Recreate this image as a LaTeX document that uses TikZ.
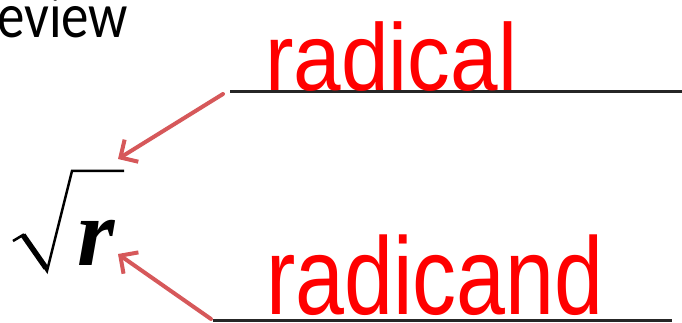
\documentclass[tikz,border=0pt]{standalone}
\usepackage{fontspec}
\setmainfont{Liberation Serif}
\newfontfamily\hand{Liberation Sans}
\newfontfamily\titlefont{Carlito}
\usetikzlibrary{arrows.meta}
\definecolor{arrowred}{RGB}{214,88,90}
\tikzset{
  blankline/.style={line width=3pt, black!85},
  pointer/.style={line width=4pt, arrowred, line cap=round,
    -{Straight Barb[length=13pt,width=26pt,line width=4pt]}},
  handword/.style={red, inner sep=0pt, anchor=base west, text depth=0pt},
}
\begin{document}
\begin{tikzpicture}[x=1pt,y=-1pt]
\useasboundingbox (0,0) rectangle (682,323);
% title fragment
\node[inner sep=0pt, anchor=base west, xscale=0.86, text height=30pt, text depth=0pt] (title) at (-3,38) {\titlefont\fontsize{64}{66}\selectfont eview};
% blank lines
\coordinate (l1a) at (230,92);
\coordinate (l1b) at (682,92);
\coordinate (l2a) at (213,320);
\coordinate (l2b) at (672,320);
\draw[blankline] (l1a) -- (l1b);
\draw[blankline] (l2a) -- (l2b);
% handwritten words
\node[handword, xscale=0.9] (radical) at (265,91) {\hand\fontsize{95}{100}\selectfont radical};
\node[handword, xscale=0.8] (radicand) at (266,314) {\hand\fontsize{110}{115}\selectfont radicand};
% radical sign
\draw[line width=2.5pt, line join=miter] (13,241) -- (23,235) -- (47,271) -- (72,171) -- (124,171);
\draw[line width=5.5pt, line cap=butt] (23,235) -- (46,268);
\node[inner sep=0pt, anchor=base west] (r) at (77,265) {\fontsize{96}{100}\selectfont\bfseries\itshape r};
% arrows
\coordinate (a1s) at (223,94);
\coordinate (a1e) at (118,159);
\coordinate (a2s) at (211,319);
\coordinate (a2e) at (118,254);
\draw[pointer] (a1s) -- (a1e);
\draw[pointer] (a2s) -- (a2e);
\end{tikzpicture}
\end{document}
